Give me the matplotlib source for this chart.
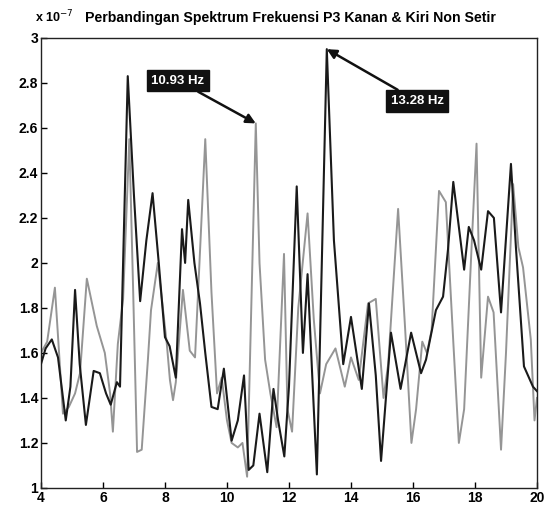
import matplotlib
matplotlib.use("Agg")
import matplotlib.pyplot as plt

plt.rcParams['font.family'] = ['Liberation Sans Narrow', 'Liberation Sans', 'DejaVu Sans']

title = "Perbandingan Spektrum Frekuensi P3 Kanan & Kiri Non Setir"

# dark line (Kanan)
black_x = [4.0, 4.15, 4.35, 4.55, 4.8, 4.95, 5.1, 5.25, 5.45, 5.7, 5.9, 6.1, 6.25, 6.45, 6.55,
           6.8, 7.0, 7.2, 7.4, 7.6, 7.8, 8.0, 8.15, 8.35, 8.55, 8.65, 8.75, 8.95, 9.13, 9.3,
           9.5, 9.7, 9.9, 10.15, 10.35, 10.55, 10.7, 10.85, 11.05, 11.3, 11.5, 11.65, 11.85,
           12.0, 12.25, 12.45, 12.6, 12.75, 12.9, 13.22, 13.45, 13.75, 14.0, 14.35, 14.58,
           14.8, 14.97, 15.29, 15.6, 15.94, 16.26, 16.42, 16.74, 16.97, 17.13, 17.3, 17.65,
           17.8, 17.97, 18.2, 18.42, 18.61, 18.84, 19.16, 19.32, 19.58, 19.87, 20.0]
black_y = [1.55, 1.62, 1.66, 1.58, 1.30, 1.45, 1.88, 1.55, 1.28, 1.52, 1.51, 1.42, 1.37, 1.47, 1.45,
           2.83, 2.30, 1.83, 2.10, 2.31, 2.00, 1.67, 1.63, 1.49, 2.15, 2.00, 2.28, 2.00, 1.82, 1.60,
           1.36, 1.35, 1.53, 1.21, 1.30, 1.50, 1.08, 1.10, 1.33, 1.07, 1.44, 1.30, 1.14,
           1.45, 2.34, 1.60, 1.95, 1.50, 1.06, 2.95, 2.10, 1.55, 1.76, 1.44, 1.82,
           1.50, 1.12, 1.69, 1.44, 1.69, 1.51, 1.57, 1.79, 1.85, 2.06, 2.36, 1.97,
           2.16, 2.10, 1.97, 2.23, 2.20, 1.78, 2.44, 2.07, 1.54, 1.45, 1.43]

# gray line (Kiri)
gray_x = [4.0, 4.2, 4.45, 4.71, 4.9, 5.1, 5.26, 5.48, 5.8, 6.06, 6.23, 6.32, 6.48, 6.65, 6.85,
          6.97, 7.1, 7.25, 7.45, 7.55, 7.77, 8.06, 8.16, 8.26, 8.35, 8.58, 8.8, 8.97, 9.3,
          9.5, 9.68, 9.83, 10.0, 10.15, 10.35, 10.5, 10.65, 10.93, 11.05, 11.23, 11.4, 11.6,
          11.84, 11.95, 12.1, 12.3, 12.6, 12.8, 13.0, 13.2, 13.5, 13.8, 14.0, 14.25, 14.55,
          14.8, 15.05, 15.2, 15.52, 15.75, 15.95, 16.1, 16.3, 16.45, 16.6, 16.84, 17.06,
          17.3, 17.48, 17.65, 17.9, 18.05, 18.2, 18.42, 18.6, 18.84, 19.0, 19.23, 19.4,
          19.55, 19.8, 19.92, 20.0]
gray_y = [1.60, 1.65, 1.89, 1.33, 1.36, 1.42, 1.51, 1.93, 1.72, 1.60, 1.42, 1.25, 1.64, 1.84, 2.55,
          1.90, 1.16, 1.17, 1.57, 1.79, 2.00, 1.64, 1.48, 1.39, 1.47, 1.88, 1.61, 1.58, 2.55,
          1.87, 1.42, 1.49, 1.30, 1.20, 1.18, 1.20, 1.05, 2.62, 2.00, 1.57, 1.42, 1.27,
          2.04, 1.35, 1.25, 1.80, 2.22, 1.75, 1.42, 1.55, 1.62, 1.45, 1.58, 1.48, 1.82,
          1.84, 1.40, 1.55, 2.24, 1.70, 1.20, 1.35, 1.65, 1.60, 1.70, 2.32, 2.27,
          1.65, 1.20, 1.35, 2.10, 2.53, 1.49, 1.85, 1.78, 1.17, 1.60, 2.35, 2.07,
          1.98, 1.66, 1.30, 1.40]

scale = 1e-7
xticks = [4, 6, 8, 10, 12, 14, 16, 18, 20]
yticks = [1, 1.2, 1.4, 1.6, 1.8, 2, 2.2, 2.4, 2.6, 2.8, 3]
ytick_labels = ["1", "1.2", "1.4", "1.6", "1.8", "2", "2.2", "2.4", "2.6", "2.8", "3"]

peak1 = (10.93, 2.62, "10.93 Hz")
peak2 = (13.22, 2.95, "13.28 Hz")

fig = plt.figure(figsize=(5.46, 5.12), dpi=100)
ax = fig.add_axes([0.075, 0.047, 0.9085, 0.879])

ax.plot(gray_x, [v * scale for v in gray_y], color='#959595', lw=1.4, zorder=2)
ax.plot(black_x, [v * scale for v in black_y], color='#1a1a1a', lw=1.5, zorder=3)

ax.set_xlim(4, 20)
ax.set_ylim(1 * scale, 3 * scale)
ax.set_xticks(xticks)
ax.set_xticklabels([str(t) for t in xticks])
ax.set_yticks([t * scale for t in yticks])
ax.set_yticklabels(ytick_labels)
ax.tick_params(direction='in', length=4, width=1, labelsize=10, pad=2)
for lab in ax.get_xticklabels() + ax.get_yticklabels():
    lab.set_fontweight('bold')
for sp in ax.spines.values():
    sp.set_linewidth(1.0)
    sp.set_color('#222222')

ax.text(-0.012, 1.028, r"x 10$^{-7}$", transform=ax.transAxes, fontsize=9,
        fontweight='bold', ha='left', va='bottom')
ax.text(0.088, 1.028, title, transform=ax.transAxes, fontsize=10.2,
        fontweight='bold', ha='left', va='bottom')

bbox = dict(boxstyle='square,pad=0.35', fc='#111111', ec='#111111')
ax.annotate(peak1[2], xy=(peak1[0], peak1[1] * scale), xytext=(8.42, 2.81 * scale),
            ha='center', va='center', color='white', fontsize=9.5, fontweight='bold',
            bbox=bbox,
            arrowprops=dict(arrowstyle='-|>', color='#111111', lw=1.8,
                            mutation_scale=14, shrinkA=0, shrinkB=0),
            zorder=5)
ax.annotate(peak2[2], xy=(peak2[0], peak2[1] * scale), xytext=(16.13, 2.72 * scale),
            ha='center', va='center', color='white', fontsize=9.5, fontweight='bold',
            bbox=bbox,
            arrowprops=dict(arrowstyle='-|>', color='#111111', lw=1.8,
                            mutation_scale=14, shrinkA=0, shrinkB=0),
            zorder=5)

fig.savefig("out.png", dpi=100)
